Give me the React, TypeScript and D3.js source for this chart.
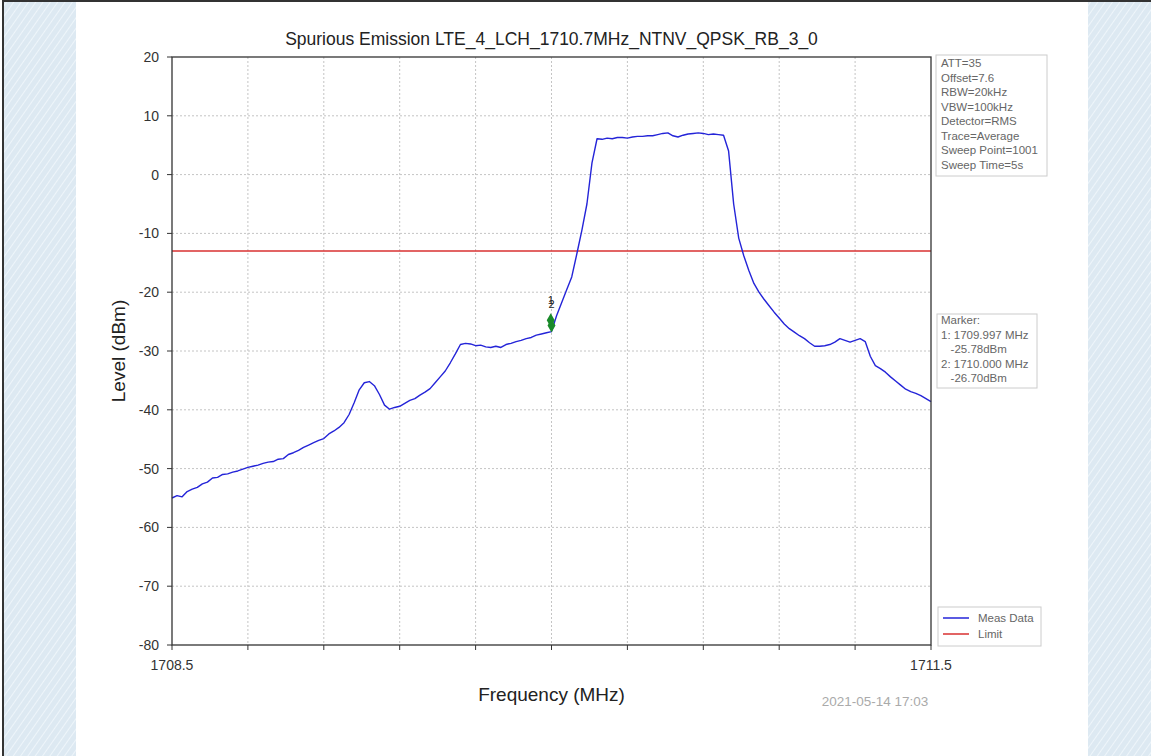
import React from "react";
import * as d3 from "d3";

const title = "Spurious Emission LTE_4_LCH_1710.7MHz_NTNV_QPSK_RB_3_0";
const freqStart = 1708.5;
const freqStop = 1711.5;
const freqStep = 0.02;
const xTickValues = [1708.5, 1708.8, 1709.1, 1709.4, 1709.7, 1710.0, 1710.3, 1710.6, 1710.9, 1711.2, 1711.5];
const xTickLabels = ["1708.5", "", "", "", "", "", "", "", "", "", "1711.5"];
const yTickValues = [20, 10, 0, -10, -20, -30, -40, -50, -60, -70, -80];
const limitLevel = -13;

// Measured levels (dBm), one every 0.02 MHz from 1708.5 to 1711.5
const measLevels = [
  -55.0, -54.6, -54.8, -53.9, -53.5, -53.2, -52.6, -52.3, -51.6, -51.5,
  -51.0, -50.9, -50.6, -50.4, -50.1, -49.8, -49.6, -49.4, -49.1, -48.9,
  -48.8, -48.4, -48.3, -47.6, -47.3, -46.9, -46.4, -46.0, -45.6, -45.2,
  -44.9, -44.1, -43.6, -43.0, -42.2, -40.8, -38.8, -36.6, -35.4, -35.2,
  -35.9, -37.4, -39.2, -39.9, -39.6, -39.4, -38.9, -38.4, -38.1, -37.5,
  -37.0, -36.4, -35.4, -34.4, -33.4, -32.0, -30.5, -28.9, -28.7, -28.8,
  -29.1, -29.0, -29.3, -29.4, -29.2, -29.4, -28.9, -28.7, -28.4, -28.2,
  -27.9, -27.7, -27.3, -27.1, -26.9, -26.7, -24.0, -21.8, -19.6, -17.4,
  -13.5, -9.5, -5.0, 2.0, 6.1, 6.0, 6.2, 6.1, 6.3, 6.3,
  6.2, 6.4, 6.5, 6.5, 6.6, 6.6, 6.8, 7.0, 7.1, 6.6,
  6.4, 6.7, 6.9, 7.0, 7.1, 7.0, 6.8, 6.9, 6.8, 6.7,
  4.0, -5.0, -10.8, -13.8, -16.3, -18.5, -20.0, -21.2, -22.3, -23.4,
  -24.4, -25.4, -26.2, -26.8, -27.4, -27.9, -28.6, -29.2, -29.2, -29.1,
  -28.9, -28.5, -27.9, -28.2, -28.5, -28.2, -27.9, -28.4, -30.9, -32.5,
  -33.0, -33.6, -34.4, -35.1, -35.8, -36.5, -36.9, -37.2, -37.6, -38.1,
  -38.6,
];

const markerFreqs = [1709.997, 1710.0];
const markerLevels = [-25.78, -26.7];
const markerNames = ["1", "2"];

const infoLines = [
  "ATT=35",
  "Offset=7.6",
  "RBW=20kHz",
  "VBW=100kHz",
  "Detector=RMS",
  "Trace=Average",
  "Sweep Point=1001",
  "Sweep Time=5s",
];
const markerLines = ["Marker:", "1: 1709.997 MHz", "   -25.78dBm", "2: 1710.000 MHz", "   -26.70dBm"];
const legendNames = ["Meas Data", "Limit"];
const legendColors = ["#2424d8", "#d83030"];
const timestamp = "2021-05-14 17:03";

export default function App() {
  const W = 1151, H = 756;
  const left = 172, right = 931, top = 57, bottom = 645;
  const x = d3.scaleLinear().domain([freqStart, freqStop]).range([left, right]);
  const y = d3.scaleLinear().domain([-80, 20]).range([bottom, top]);
  const freqs = measLevels.map((_, i) => freqStart + i * freqStep);
  const line = d3.line<number>().x((_, i) => x(freqs[i])).y((d) => y(d));
  const font = "'Liberation Sans', Arial, sans-serif";
  const textGray = "#666";

  return (
    <svg width={W} height={H} style={{ position: "absolute", left: 0, top: 0, background: "#fff" }} fontFamily={font}>
      <defs>
        <pattern id="tex" width="6" height="6" patternUnits="userSpaceOnUse" patternTransform="rotate(35)">
          <rect width="6" height="6" fill="#dde9f2" />
          <line x1="0" y1="0" x2="0" y2="6" stroke="#eef5fa" strokeWidth="2" />
        </pattern>
      </defs>
      <rect x={4} y={2} width={72} height={H} fill="url(#tex)" />
      <rect x={1088} y={2} width={W - 1088} height={H} fill="url(#tex)" />
      <line x1={3} y1={1} x2={W} y2={1} stroke="#333" strokeWidth={2} />
      <line x1={3} y1={0} x2={3} y2={H} stroke="#333" strokeWidth={2} />

      {/* grid */}
      {yTickValues.slice(1, -1).map((v) => (
        <line key={"gy" + v} x1={left} x2={right} y1={y(v)} y2={y(v)} stroke="#c4c4c4" strokeDasharray="2,2" strokeWidth={1} />
      ))}
      {xTickValues.slice(1, -1).map((v) => (
        <line key={"gx" + v} x1={x(v)} x2={x(v)} y1={top} y2={bottom} stroke="#c4c4c4" strokeDasharray="2,2" strokeWidth={1} />
      ))}

      {/* limit */}
      <line x1={left} x2={right} y1={y(limitLevel)} y2={y(limitLevel)} stroke={legendColors[1]} strokeWidth={1.5} />

      {/* data */}
      <path d={line(measLevels) || ""} fill="none" stroke={legendColors[0]} strokeWidth={1.4} strokeLinejoin="round" />

      {/* markers */}
      {markerFreqs.map((f, i) => {
        const cx = x(f), cy = y(markerLevels[i]) - 6;
        return (
          <g key={"m" + i}>
            <path d={`M${cx},${cy - 7}L${cx + 4},${cy}L${cx},${cy + 7}L${cx - 4},${cy}Z`} fill="#1a8a2a" />
            <text x={cx} y={y(markerLevels[i]) - 22 - i * 2} fontSize={11} textAnchor="middle" fill="#222">{markerNames[i]}</text>
          </g>
        );
      })}

      {/* frame */}
      <rect x={left} y={top} width={right - left} height={bottom - top} fill="none" stroke="#333" strokeWidth={1.3} />

      {/* ticks */}
      {yTickValues.map((v) => (
        <g key={"ty" + v}>
          <line x1={left - 5} x2={left} y1={y(v)} y2={y(v)} stroke="#333" />
          <text x={left - 13} y={y(v) + 5} fontSize={14} textAnchor="end" fill="#333">{v}</text>
        </g>
      ))}
      {xTickValues.map((v, i) => (
        <g key={"tx" + v}>
          <line x1={x(v)} x2={x(v)} y1={bottom} y2={bottom + 5} stroke="#333" />
          <text x={x(v)} y={bottom + 25} fontSize={14} textAnchor="middle" fill="#333">{xTickLabels[i]}</text>
        </g>
      ))}

      <text x={(left + right) / 2} y={45} fontSize={17.5} textAnchor="middle" fill="#222">{title}</text>
      <text transform={`translate(${125},${351}) rotate(-90)`} fontSize={19} textAnchor="middle" fill="#222">Level (dBm)</text>
      <text x={(left + right) / 2} y={701} fontSize={19} textAnchor="middle" fill="#222">Frequency (MHz)</text>
      <text x={875} y={706} fontSize={13.5} textAnchor="middle" fill="#aaa">{timestamp}</text>

      {/* info box */}
      <rect x={936} y={55} width={111} height={121} fill="#fff" stroke="#ccc" strokeWidth={1} />
      {infoLines.map((t, i) => (
        <text key={"i" + i} x={941} y={67 + i * 14.5} fontSize={11.5} fill={textGray}>{t}</text>
      ))}

      {/* marker box */}
      <rect x={937} y={314} width={100} height={74} fill="#fff" stroke="#ccc" strokeWidth={1} />
      {markerLines.map((t, i) => (
        <text key={"k" + i} x={941} y={324 + i * 14.5} fontSize={11.5} fill={textGray} style={{ whiteSpace: "pre" }}>{t}</text>
      ))}

      {/* legend */}
      <rect x={938} y={607} width={103} height={39} fill="#fff" stroke="#ccc" strokeWidth={1} />
      {legendNames.map((n, i) => (
        <g key={"l" + i}>
          <line x1={943} x2={969} y1={618 + i * 16} y2={618 + i * 16} stroke={legendColors[i]} strokeWidth={1.5} />
          <text x={978} y={622 + i * 16} fontSize={11.5} fill={textGray}>{n}</text>
        </g>
      ))}
    </svg>
  );
}
